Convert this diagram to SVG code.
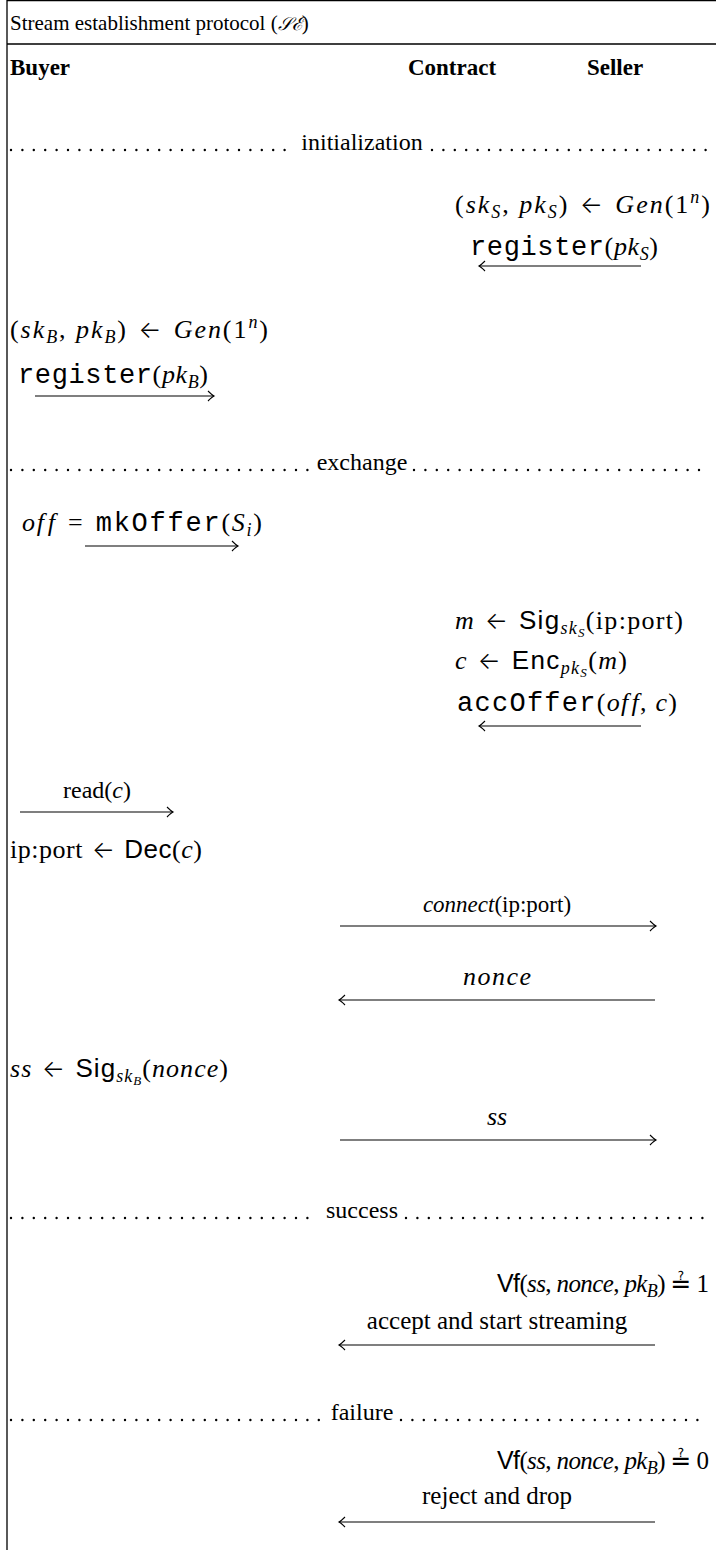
<svg xmlns="http://www.w3.org/2000/svg" width="716" height="1550" viewBox="0 0 716 1550">
<defs>
<style>
.t{font-family:"Liberation Serif",serif;font-size:24px;fill:#000}
.ti{font-family:"Liberation Serif",serif;font-size:21px;fill:#000}
.x{font-family:"Liberation Serif",serif;font-size:26px;fill:#000}
.v{font-family:"Liberation Serif",serif;font-size:25px;fill:#000}
.h{font-family:"Liberation Serif",serif;font-size:23px;font-weight:bold;fill:#000}
.i{font-style:italic}
.m{font-family:"Liberation Mono",monospace;font-size:27px}
.sf{font-family:"Liberation Sans",sans-serif}
.ar{font-family:"Inter","DejaVu Sans",sans-serif;font-size:24px;font-weight:300}
.eq{font-family:"DejaVu Sans",sans-serif}
.s{font-size:18px}
.ss{font-size:13px}
.frame{stroke:#000;stroke-width:1.3;fill:none}
.dots{stroke:#000;stroke-width:2.4;stroke-linecap:round;stroke-dasharray:0 11.4;fill:none}
.arr{stroke:#000;stroke-width:1.1;fill:none}
</style>
<marker id="ah" viewBox="-10 -6 12 12" refX="0" refY="0" markerWidth="12" markerHeight="12" markerUnits="userSpaceOnUse" orient="auto">
<path d="M-6,-5 Q-2,-1 0,0 Q-2,1 -6,5" stroke="#000" stroke-width="1.1" fill="none"/>
</marker>
</defs>
<rect width="716" height="1550" fill="#fff"/>
<g id="frame">
<path class="frame" d="M7,0.6H716M7,0V1550M7,44H716"/>
<text class="ti" x="10" y="30">Stream establishment protocol (<tspan font-family="DejaVu Serif" font-style="italic" font-size="18">𝒮ℰ</tspan>)</text>
</g>
<g id="buyer"><text class="h" x="10" y="75">Buyer</text></g>
<g id="contract"><text class="h" x="452" y="75" text-anchor="middle">Contract</text></g>
<g id="seller"><text class="h" x="615" y="75" text-anchor="middle">Seller</text></g>
<g id="sep-initialization">
<path class="dots" d="M11,150H294M432,150H706"/>
<text class="t" x="362" y="150" text-anchor="middle">initialization</text>
</g>
<g id="seller-gen">
<text class="x" x="455" y="213" textLength="255" lengthAdjust="spacing">(<tspan class="i">sk</tspan><tspan class="i s" dy="5">S</tspan><tspan dy="-5">, </tspan><tspan class="i">pk</tspan><tspan class="i s" dy="5">S</tspan><tspan dy="-5">) </tspan><tspan class="ar" dx="2">←</tspan> <tspan class="i" dx="2">Gen</tspan>(1<tspan class="i s" dy="-10">n</tspan><tspan dy="10">)</tspan></text>
</g>
<g id="buyer-gen">
<text class="x" x="10" y="338" textLength="258" lengthAdjust="spacing">(<tspan class="i">sk</tspan><tspan class="i s" dy="5">B</tspan><tspan dy="-5">, </tspan><tspan class="i">pk</tspan><tspan class="i s" dy="5">B</tspan><tspan dy="-5">) </tspan><tspan class="ar" dx="2">←</tspan> <tspan class="i" dx="2">Gen</tspan>(1<tspan class="i s" dy="-10">n</tspan><tspan dy="10">)</tspan></text>
</g>
<g id="sep-exchange">
<path class="dots" d="M11,470H310M414,470H706"/>
<text class="t" x="362" y="470" text-anchor="middle">exchange</text>
</g>
<g id="seller-sig">
<text class="x" x="455" y="629" textLength="228" lengthAdjust="spacing"><tspan class="i">m</tspan> <tspan class="ar" dx="2">←</tspan> <tspan class="sf" dx="2">Sig</tspan><tspan class="i s" dy="5">sk</tspan><tspan class="i ss" dy="3">S</tspan><tspan dy="-8">(ip:port)</tspan></text>
<text class="x" x="455" y="669" textLength="172" lengthAdjust="spacing"><tspan class="i">c</tspan> <tspan class="ar" dx="2">←</tspan> <tspan class="sf" dx="2">Enc</tspan><tspan class="i s" dy="5">pk</tspan><tspan class="i ss" dy="3">S</tspan><tspan dy="-8">(</tspan><tspan class="i">m</tspan>)</text>
</g>
<g id="buyer-dec">
<text class="x" x="10" y="858" textLength="192" lengthAdjust="spacing">ip:port <tspan class="ar" dx="2">←</tspan> <tspan class="sf" dx="2">Dec</tspan>(<tspan class="i">c</tspan>)</text>
</g>
<g id="buyer-sign">
<text class="x" x="10" y="1077" textLength="218" lengthAdjust="spacing"><tspan class="i">ss</tspan> <tspan class="ar" dx="2">←</tspan> <tspan class="sf" dx="2">Sig</tspan><tspan class="i s" dy="5">sk</tspan><tspan class="i ss" dy="3">B</tspan><tspan dy="-8">(</tspan><tspan class="i">nonce</tspan>)</text>
</g>
<g id="sep-success">
<path class="dots" d="M11,1218H318M406,1218H706"/>
<text class="t" x="362" y="1218" text-anchor="middle">success</text>
</g>
<g id="seller-verify-1">
<text class="v" x="497" y="1292" textLength="212" lengthAdjust="spacing"><tspan class="sf">Vf</tspan>(<tspan class="i">ss</tspan>, <tspan class="i">nonce</tspan>, <tspan class="i">pk</tspan><tspan class="i s" dy="5">B</tspan><tspan dy="-5">) </tspan><tspan class="eq">≟</tspan> 1</text>
</g>
<g id="sep-failure">
<path class="dots" d="M11,1420H323M401,1420H706"/>
<text class="t" x="362" y="1420" text-anchor="middle">failure</text>
</g>
<g id="seller-verify-0">
<text class="v" x="497" y="1469" textLength="212" lengthAdjust="spacing"><tspan class="sf">Vf</tspan>(<tspan class="i">ss</tspan>, <tspan class="i">nonce</tspan>, <tspan class="i">pk</tspan><tspan class="i s" dy="5">B</tspan><tspan dy="-5">) </tspan><tspan class="eq">≟</tspan> 0</text>
</g>
<g id="connectors">
<path class="arr" marker-end="url(#ah)" d="M641,266H479"/>
<text class="x" x="470" y="255" textLength="188" lengthAdjust="spacing"><tspan class="m">register</tspan>(<tspan class="i">pk</tspan><tspan class="i s" dy="5">S</tspan><tspan dy="-5">)</tspan></text>
<path class="arr" marker-end="url(#ah)" d="M35,396H214"/>
<text class="x" x="18" y="383" textLength="190" lengthAdjust="spacing"><tspan class="m">register</tspan>(<tspan class="i">pk</tspan><tspan class="i s" dy="5">B</tspan><tspan dy="-5">)</tspan></text>
<path class="arr" marker-end="url(#ah)" d="M85,546H238"/>
<text class="x" x="22" y="531" textLength="240" lengthAdjust="spacing"><tspan class="i">of<tspan dx="2">f</tspan></tspan> <tspan dx="3">=</tspan> <tspan class="m" dx="3">mkOffer</tspan>(<tspan class="i">S</tspan><tspan class="i s" dy="5">i</tspan><tspan dy="-5">)</tspan></text>
<path class="arr" marker-end="url(#ah)" d="M641,726H479"/>
<text class="x" x="457" y="711" textLength="220" lengthAdjust="spacing"><tspan class="m">accOffer</tspan>(<tspan class="i">of<tspan dx="2">f</tspan></tspan>, <tspan class="i">c</tspan>)</text>
<path class="arr" marker-end="url(#ah)" d="M20,812H173"/>
<text class="t" x="97" y="798" text-anchor="middle">read(<tspan class="i">c</tspan>)</text>
<path class="arr" marker-end="url(#ah)" d="M340,926H656"/>
<text class="t" x="497" y="912" text-anchor="middle" style="font-size:23px"><tspan class="i">connect</tspan>(ip:port)</text>
<path class="arr" marker-end="url(#ah)" d="M655,1000H339"/>
<text class="x i" x="463" y="985" textLength="68" lengthAdjust="spacing">nonce</text>
<path class="arr" marker-end="url(#ah)" d="M340,1140H656"/>
<text class="x i" x="497" y="1125" text-anchor="middle">ss</text>
<path class="arr" marker-end="url(#ah)" d="M655,1345H339"/>
<text class="t" x="497" y="1329" text-anchor="middle" style="font-size:25px">accept and start streaming</text>
<path class="arr" marker-end="url(#ah)" d="M655,1522H339"/>
<text class="t" x="497" y="1504" text-anchor="middle" style="font-size:25px">reject and drop</text>
</g>
</svg>
